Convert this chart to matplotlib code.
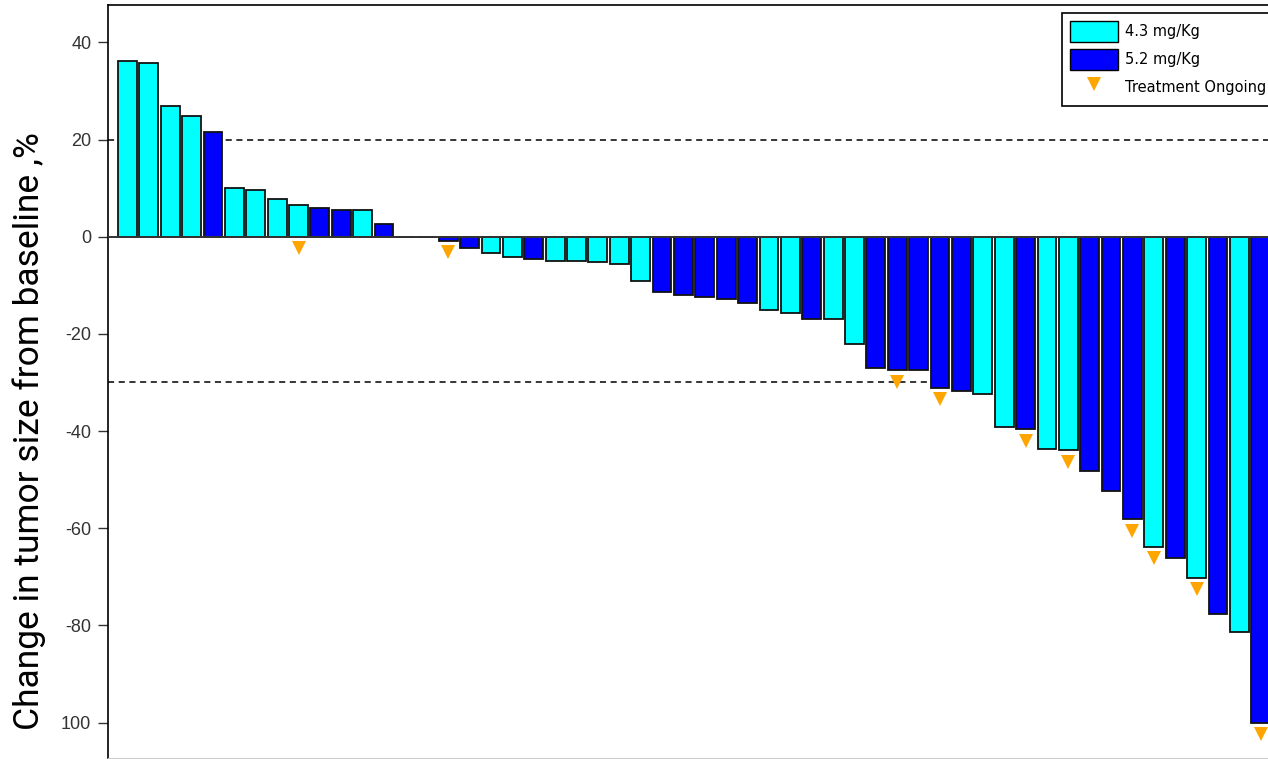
import numpy as np
import matplotlib
matplotlib.use("Agg")
import matplotlib.pyplot as plt
from matplotlib.patches import Patch
from matplotlib.lines import Line2D

# percent change from baseline, one bar per patient, sorted
change = [36.2, 35.8, 26.9, 24.8, 21.6, 10.1, 9.7, 7.8, 6.6, 6.0,
          5.5, 5.5, 2.7, 0.0, 0.0, -0.8, -2.3, -3.4, -4.1, -4.6,
          -5.0, -5.0, -5.3, -5.6, -9.1, -11.4, -12.0, -12.4, -12.9, -13.6,
          -15.1, -15.7, -17.0, -17.0, -22.1, -27.0, -27.4, -27.4, -31.1, -31.7,
          -32.4, -39.2, -39.6, -43.6, -44.0, -48.2, -52.3, -58.2, -63.8, -66.2,
          -70.2, -77.7, -81.4, -100.0]
# dose group: 'L' = 4.3 mg/Kg, 'H' = 5.2 mg/Kg
dose = ['L', 'L', 'L', 'L', 'H', 'L', 'L', 'L', 'L', 'H',
        'H', 'L', 'H', 'L', 'L', 'H', 'H', 'L', 'L', 'H',
        'L', 'L', 'L', 'L', 'L', 'H', 'H', 'H', 'H', 'H',
        'L', 'L', 'H', 'L', 'L', 'H', 'H', 'H', 'H', 'H',
        'L', 'L', 'H', 'L', 'L', 'H', 'H', 'H', 'L', 'H',
        'L', 'H', 'L', 'H']
# treatment still ongoing (1-based bar numbers)
ongoing = [9, 16, 37, 39, 43, 45, 48, 49, 51, 54]

ticks = [40, 20, 0, -20, -40, -60, -80, -100]
tick_labels = ['40', '20', '0', '-20', '-40', '-60', '-80', '100']

col_low = '#00ffff'
col_high = '#0000ff'
col_tri = '#ffa500'

W, H = 1268, 759
fig = plt.figure(figsize=(W / 100, H / 100), dpi=100)
left, right, top, bottom = 108, 1280, 5, 758
ax = fig.add_axes([left / W, (H - bottom) / H, (right - left) / W, (bottom - top) / H])

x = np.arange(len(change))
colors = [col_low if d == 'L' else col_high for d in dose]
ax.bar(x, change, width=0.88, color=colors, edgecolor='#111111', linewidth=1.3, zorder=3)

ax.axhline(0, color='#333333', linewidth=1.4, zorder=4)
ax.axhline(20, color='black', linewidth=1.1, linestyle=(0, (4, 3)), zorder=2)
ax.axhline(-30, color='black', linewidth=1.1, linestyle=(0, (4, 3)), zorder=2)

idx = np.array(ongoing) - 1
vals = np.minimum(np.array(change)[idx], 0) - 2.4
ax.plot(idx, vals, linestyle='none', marker='v', markersize=10,
        color=col_tri, markeredgewidth=0, zorder=5)

ax.set_xlim(-0.91, 53.9)
ax.set_ylim(-107.3, 47.7)
ax.set_xticks([])
ax.set_yticks(ticks)
ax.set_yticklabels(tick_labels, fontsize=13, color='#333333', family='Liberation Sans')
ax.tick_params(axis='y', direction='out', length=7, width=1, pad=5, color='#333333')
ax.spines['right'].set_visible(False)
ax.spines['bottom'].set_color('#cccccc')
for s in ['left', 'top']:
    ax.spines[s].set_linewidth(1.2)

fig.text(29 / W, 1 - 431 / H, 'Change in tumor size from baseline ,%', rotation=90,
         ha='center', va='center', fontsize=25.5, family='Roboto',
         color='black')

handles = [Patch(facecolor=col_low, edgecolor='black', label='4.3 mg/Kg'),
           Patch(facecolor=col_high, edgecolor='black', label='5.2 mg/Kg'),
           Line2D([], [], linestyle='none', marker='v', markersize=10, color=col_tri,
                  markeredgewidth=0, label='Treatment Ongoing')]
leg = fig.legend(handles=handles, loc='upper left', bbox_to_anchor=(1062 / W, 1 - 13 / H),
                 frameon=True, fancybox=False, edgecolor='black', framealpha=1,
                 prop={'family': 'DejaVu Sans', 'size': 10.5}, handlelength=3.3,
                 handleheight=1.8, borderpad=0.55, labelspacing=0.5, handletextpad=0.45,
                 borderaxespad=0)
leg.get_frame().set_linewidth(1.2)

fig.savefig('out.png', dpi=100)
